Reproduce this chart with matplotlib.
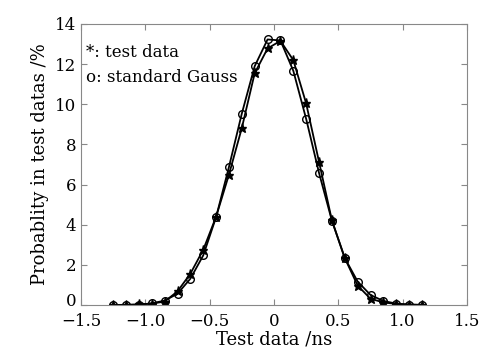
import matplotlib
matplotlib.use("Agg")
import matplotlib.pyplot as plt
import matplotlib.transforms as mtransforms

x_ns = [-1.25, -1.15, -1.05, -0.95, -0.85, -0.75, -0.65, -0.55, -0.45, -0.35,
        -0.25, -0.15, -0.05, 0.05, 0.15, 0.25, 0.35, 0.45, 0.55, 0.65,
        0.75, 0.85, 0.95, 1.05, 1.15]
test_data = [0.0, 0.01, 0.03, 0.07, 0.17, 0.68, 1.56, 2.75, 4.40, 6.50,
             8.82, 11.55, 12.78, 13.16, 12.20, 10.04, 7.13, 4.22, 2.34, 0.97,
             0.31, 0.13, 0.05, 0.02, 0.01]
gauss_data = [0.0, 0.0, 0.02, 0.08, 0.22, 0.56, 1.31, 2.47, 4.38, 6.88,
              9.54, 11.90, 13.23, 13.18, 11.67, 9.27, 6.58, 4.20, 2.34, 1.17,
              0.50, 0.20, 0.07, 0.02, 0.0]
xticks = [-1.5, -1.0, -0.5, 0, 0.5, 1.0, 1.5]
xticklabels = ["\u22121.5", "\u22121.0", "\u22120.5", "0", "0.5", "1.0", "1.5"]
yticks = [0, 2, 4, 6, 8, 10, 12, 14]

plt.rcParams['font.family'] = ['DejaVu Serif']
fig = plt.figure(figsize=(4.83, 3.51), dpi=100)
ax = fig.add_axes([81/483, 46/351, 386/483, 281/351])

ax.plot(x_ns, test_data, color='black', lw=1.3, marker='*', ms=6.5, mfc='black')
ax.plot(x_ns, gauss_data, color='black', lw=1.3, marker='o', ms=5.5, mfc='none', mew=1.0)

ax.set_xlim(-1.5, 1.5)
ax.set_ylim(0, 14)
ax.set_xticks(xticks)
ax.set_xticklabels(xticklabels)
ax.set_yticks(yticks)
ax.tick_params(direction='in', top=True, right=True, labelsize=12, color='#888888', length=4)
ax.tick_params(axis='x', pad=6)
for s in ax.spines.values():
    s.set_color('#888888')
    s.set_linewidth(0.8)

ax.set_xlabel('Test data /ns', fontsize=13, labelpad=0)
ax.set_ylabel('Probablity in test datas /%', fontsize=13, labelpad=4)
ax.text(-1.465, 12.6, '*: test data', fontsize=12, va='center', ha='left')
ax.text(-1.465, 11.35, 'o: standard Gauss', fontsize=12, va='center', ha='left')

fig.canvas.draw()
lbl0 = ax.yaxis.get_major_ticks()[0].label1
lbl0.set_transform(lbl0.get_transform() + mtransforms.ScaledTranslation(0, 4/72, fig.dpi_scale_trans))

fig.savefig('out.png', dpi=100)
